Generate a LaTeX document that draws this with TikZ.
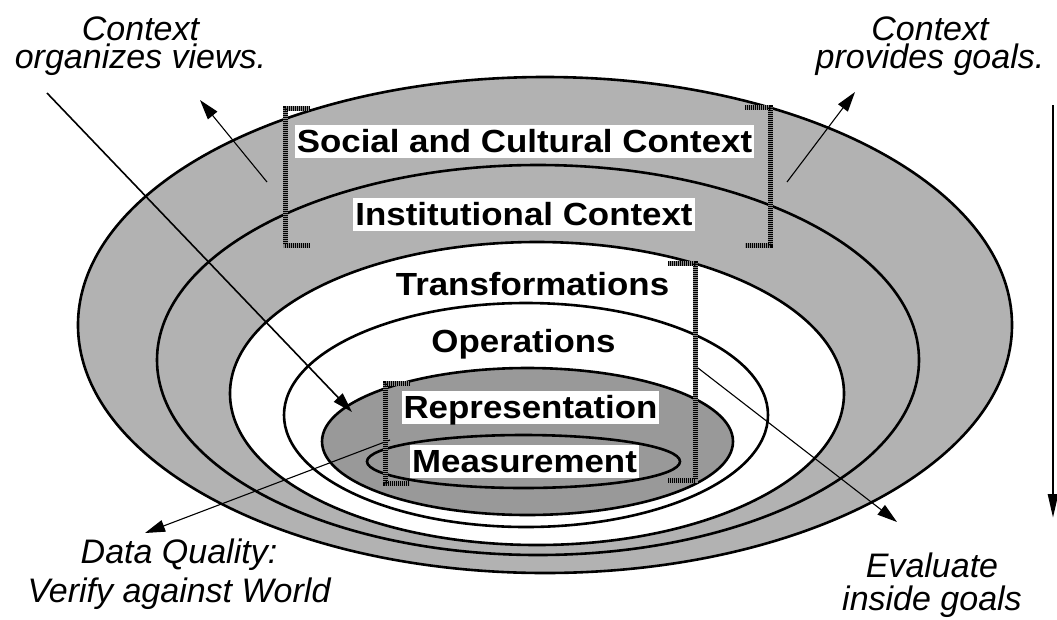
\documentclass[tikz,border=0pt]{standalone}
\usepackage{fontspec}
\setmainfont{Liberation Sans}
\newfontfamily\boldlbl[FakeStretch=1.09]{Liberation Sans}
\usetikzlibrary{arrows.meta}
\definecolor{ringgray}{gray}{0.70}
\definecolor{coregray}{gray}{0.60}
\tikzset{
  ringline/.style={line width=2.6pt, draw=black},
  bracketline/.style={line width=5pt, draw=black, dash pattern=on 1pt off 1pt,
     preaction={draw=black!45, line width=5pt, solid}},
  ringlbl/.style={font=\boldlbl\bfseries\fontsize{32}{36}\selectfont, inner xsep=2pt,
     inner ysep=0pt, text height=27pt, text depth=6pt, anchor=base},
  boxed/.style={ringlbl, fill=white},
  note/.style={font=\itshape\fontsize{34}{28}\selectfont, inner sep=0pt, anchor=base,
     align=center},
  arr/.style={line width=1.6pt, -{Triangle[length=20pt,width=12pt]}},
  thinarr/.style={line width=1.1pt, -{Triangle[length=20pt,width=12pt]}},
  vertarr/.style={line width=2.6pt, -{Triangle[length=24pt,width=10pt]}}
}
\begin{document}
\begin{tikzpicture}[x=1pt,y=-1pt]
\useasboundingbox (0,0) rectangle (1057,619);
% rings
\filldraw[fill=ringgray, ringline] (545,325) ellipse [x radius=467pt, y radius=248pt];
\draw[ringline] (538,360) ellipse [x radius=381pt, y radius=195pt];
\filldraw[fill=white, ringline] (537,393.5) ellipse [x radius=307pt, y radius=151.5pt];
\draw[ringline] (526,415) ellipse [x radius=242pt, y radius=112pt];
\filldraw[fill=coregray, ringline] (527.5,441.5) ellipse [x radius=205.5pt, y radius=73.5pt];
\draw[ringline] (523.5,461.5) ellipse [x radius=156.5pt, y radius=26.5pt];
% arrow end points
\coordinate (a1s) at (47,93);   \coordinate (a1e) at (352,412);
\coordinate (a2s) at (267,182); \coordinate (a2e) at (200,100);
\coordinate (a3s) at (787,182); \coordinate (a3e) at (855,92);
\coordinate (a4s) at (1053,105); \coordinate (a4e) at (1053,518);
\coordinate (a5s) at (698,368); \coordinate (a5e) at (897,522);
\coordinate (a6s) at (390,440); \coordinate (a6e) at (145,533);
\draw[arr] (a1s) -- (a1e);
\draw[thinarr] (a2s) -- (a2e);
\draw[thinarr] (a3s) -- (a3e);
\draw[vertarr] (a4s) -- (a4e);
\draw[thinarr] (a5s) -- (a5e);
\draw[thinarr] (a6s) -- (a6e);
% brackets
\draw[bracketline] (310,108) -- (285,108) -- (285,245) -- (310,245);
\draw[bracketline] (745,107) -- (770,107) -- (770,245) -- (745,245);
\draw[bracketline] (668,263) -- (695,263) -- (695,480) -- (668,480);
\draw[bracketline] (410,383) -- (385,383) -- (385,483) -- (410,483);
% ring labels
\node[boxed] (social) at (524.5,152) {Social and Cultural Context};
\node[boxed] (inst) at (524,225) {Institutional Context};
\node[ringlbl] (trans) at (532.5,295) {Transformations};
\node[ringlbl] (oper) at (523.5,352) {Operations};
\node[boxed] (repr) at (530.5,418) {Representation};
\node[boxed] (meas) at (524.5,472) {Measurement};
% notes (base anchor = baseline of the last line)
\node[note] (ctxL) at (140.5,68) {Context\\organizes views.};
\node[note] (ctxR) at (930,68) {Context\\provides goals.};
\node[note] (dq) at (179,602) {Data Quality:\\[6pt]Verify against World};
\node[note] (ev) at (932,610) {Evaluate\\[5pt]inside goals};
\end{tikzpicture}
\end{document}
